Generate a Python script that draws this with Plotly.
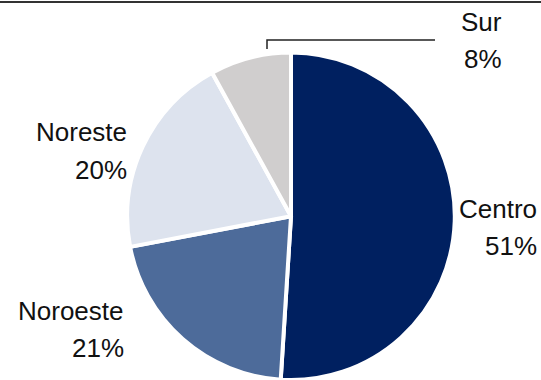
import plotly.graph_objects as go

W, H = 541, 380

# Data
regions = ["Centro", "Noroeste", "Noreste", "Sur"]
shares = [51, 21, 20, 8]
pct_labels = ["51%", "21%", "20%", "8%"]

# Style
slice_colors = ["#002060", "#4D6B9A", "#DDE3EE", "#D0CECE"]
FONT = "Liberation Sans, Arial, sans-serif"
FONT_SIZE = 26
TEXT_COLOR = "#111111"

# label anchor points in pixels (right edge x, name y, pct y)
label_pos = {
    "Centro": (539, 209, 246),
    "Noroeste": (126, 311, 348),
    "Noreste": (129, 132, 170),
    "Sur": (504, 22, 59),
}


def px(x, y):
    # pixel (from top-left) -> paper coords
    return x / W, (H - y) / H


fig = go.Figure()

fig.add_trace(go.Pie(
    labels=regions,
    values=shares,
    sort=False,
    direction="clockwise",
    rotation=0,
    marker=dict(colors=slice_colors, line=dict(color="white", width=4)),
    textinfo="none",
    hoverinfo="label+percent",
    domain=dict(x=[0.2279, 0.8479], y=[0.0, 0.862]),
    showlegend=False,
))

annotations = []
for name, pct in zip(regions, pct_labels):
    rx, ny, py = label_pos[name]
    for txt, yy in ((name, ny), (pct, py)):
        ax, ay = px(rx, yy)
        annotations.append(dict(
            x=ax, y=ay, xref="paper", yref="paper",
            text=txt, showarrow=False,
            xanchor="right", yanchor="middle",
            font=dict(family=FONT, size=FONT_SIZE, color=TEXT_COLOR),
        ))

# leader line for Sur
x0, y0 = px(267, 49)
x1, y1 = px(267, 40)
x2, y2 = px(435, 40)
shapes = [
    dict(type="path", xref="paper", yref="paper",
         path=f"M {x0} {y0} L {x1} {y1} L {x2} {y2}",
         line=dict(color="#222222", width=1.5)),
    # top rule
    dict(type="line", xref="paper", yref="paper",
         x0=0, x1=1, y0=px(0, 2)[1], y1=px(0, 2)[1],
         line=dict(color="#333333", width=2)),
]

fig.update_layout(
    width=W,
    height=H,
    margin=dict(l=0, r=0, t=0, b=0),
    paper_bgcolor="white",
    plot_bgcolor="white",
    annotations=annotations,
    shapes=shapes,
    showlegend=False,
)

# drop the default body margin so the figure sits at the window corner
fig.write_html(
    "out.html",
    config={"displayModeBar": False},
    post_script="document.body.style.margin='0';",
)
